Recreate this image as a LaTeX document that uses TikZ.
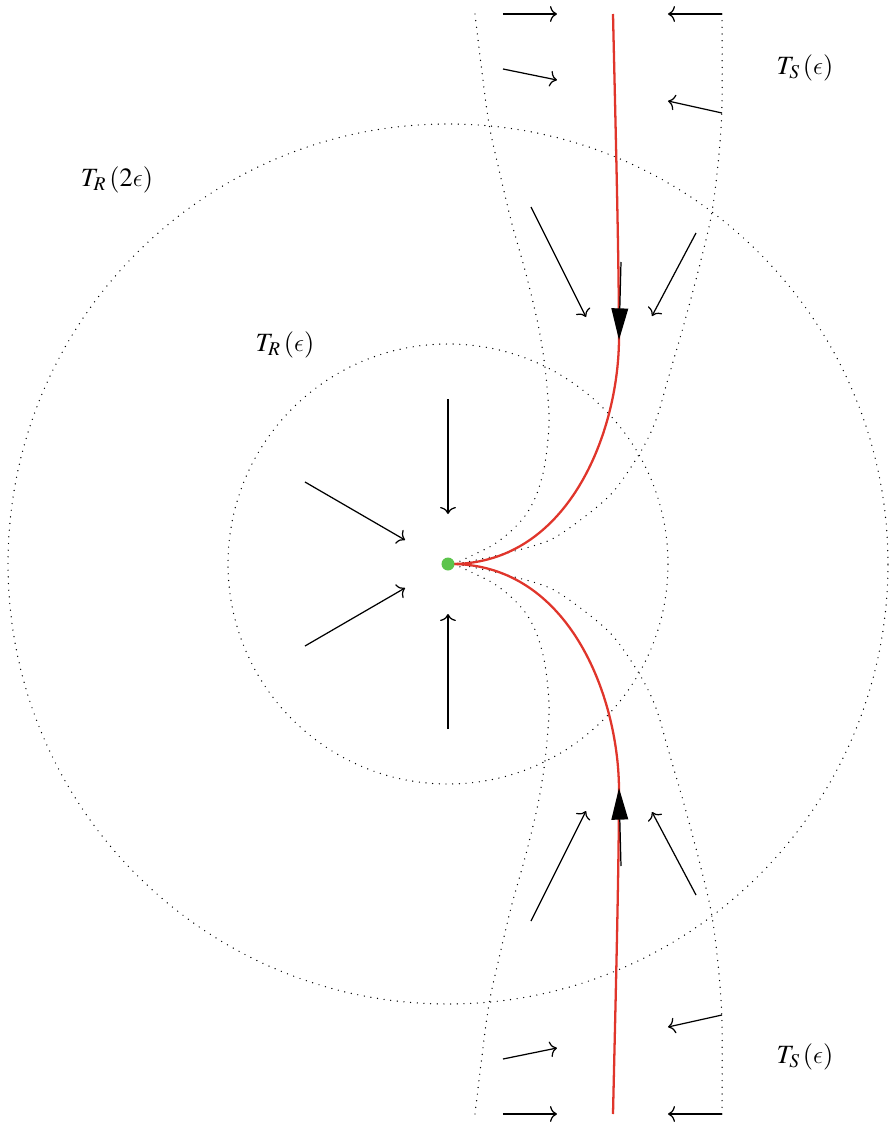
\documentclass[tikz,border=0pt]{standalone}
\usepackage{mathptmx}
\usepackage{tikz}
\usetikzlibrary{arrows.meta}
\DeclareSymbolFont{cmletters}{OML}{cmm}{m}{it}
\DeclareMathSymbol{\lunateeps}{\mathord}{cmletters}{"0F}
\definecolor{FlowRed}{HTML}{E0352B}
\definecolor{FixGreen}{HTML}{5CC44C}

\begin{document}
\begin{tikzpicture}[x=0.02cm,y=0.02cm,
    every node/.style={font=\fontsize{15}{18}\selectfont},
    tube/.style={line width=0.8pt,dash pattern=on 0pt off 3.8pt,line cap=round},
    fl/.style={-{To[length=4pt,width=9pt]},line width=0.7pt},
    man/.style={FlowRed,line width=1.3pt},
    dir/.style={-{Triangle[length=18pt,width=9.5pt]},line width=0.7pt}]
  \useasboundingbox (-448,-563) rectangle (441,564);
  \draw[tube] (0,0) circle (440);
  \draw[tube] (0,0) circle (220);
  \foreach \s in {1,-1}{
    \begin{scope}[yscale=\s]
      \draw[tube] plot[smooth] coordinates {(27,550) (33,500) (41,440) (52,390)
        (64,340) (78,290) (90,240) (97,197) (101,150) (100,125) (96,95) (88,68)
        (77,48) (62,32) (45,19) (25,9) (6,0)};
      \draw[tube] plot[smooth] coordinates {(274,550) (274,460) (271,410) (264,352)
        (252,300) (236,240) (220,185) (208,144) (192,111) (165,72) (135,46)
        (102,24) (59,11) (19,2) (6,0)};
      \draw[man] (165,550) .. controls (168,420) and (171,300) .. (171,224)
        .. controls (170,130) and (120,2) .. (6,0);
      \draw[dir] (173,302) -- (171,224);
      \draw[fl] (55,550) -- (109,550);
      \draw[fl] (274,550) -- (220,550);
      \draw[fl] (55,495) -- (109,484);
      \draw[fl] (274,451) -- (220,463);
      \draw[fl] (83,357) -- (138,247);
      \draw[fl] (248,331) -- (204,248);
      \draw[fl] (0,165) -- (0,50);
      \draw[fl] (-143,82) -- (-43,24);
    \end{scope}}
  \node[fill=FixGreen,circle,inner sep=0pt,minimum size=0.26cm] (eq) at (0,0) {};
  \node (ts1) at (357,496) {$T_S\left(\lunateeps\right)$};
  \node (ts2) at (357,-493) {$T_S\left(\lunateeps\right)$};
  \node (tr2) at (-331,384) {$T_R\left(2\lunateeps\right)$};
  \node (tr1) at (-163,219) {$T_R\left(\lunateeps\right)$};
\end{tikzpicture}
\end{document}
